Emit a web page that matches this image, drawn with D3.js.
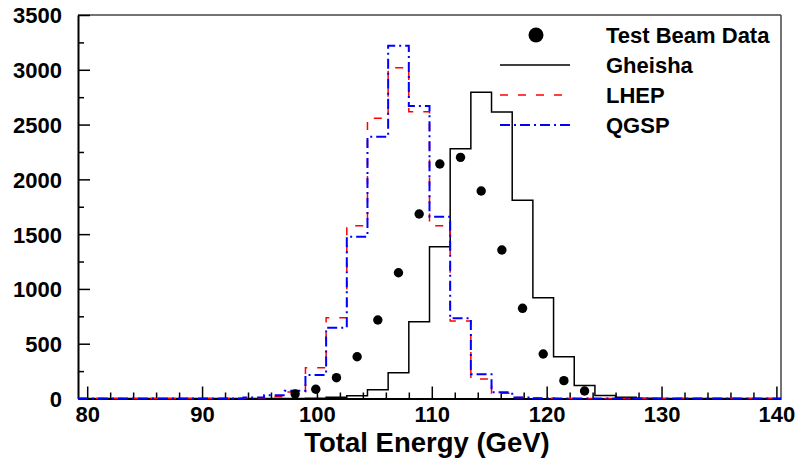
<!DOCTYPE html>
<html><head><meta charset="utf-8">
<script src="https://cdn.jsdelivr.net/npm/d3@7"></script>
<style>
html,body{margin:0;padding:0;background:#fff;}
svg{display:block;font-family:"Liberation Sans",Arial,sans-serif;font-weight:bold;}
</style></head>
<body><svg id="c" width="796" height="459"></svg>
<script>
// ---- data ----
const binLow = [79.2, 81.0, 82.8, 84.6, 86.4, 88.2, 90.0, 91.8, 93.6, 95.4,
  97.2, 99.0, 100.8, 102.6, 104.4, 106.2, 108.0, 109.8, 111.6, 113.4,
  115.2, 117.0, 118.8, 120.6, 122.4, 124.2, 126.0, 127.8, 129.6, 131.4,
  133.2, 135.0, 136.8, 138.6];
const binWidth = 1.8;
const gheisha = [0,0,0,0,0,0,0,0,0,0, 0,3,12,25,80,235,700,1385,2280,2795,
  2615,1810,920,380,118,28,12,2,0,0, 0,0,0,0];
const lhep = [0,0,0,0,0,0,0,0,5,15, 60,281,737,1577,2557,3019,2618,1577,707,178,
  47,8,2,0,0,0,0,0,0,0, 0,0,0,0];
const qgsp = [0,0,0,0,0,0,0,0,8,30, 71,214,646,1477,2389,3220,2670,1659,732,221,
  57,10,3,0,0,0,0,0,0,0, 0,0,0,0];
const testBeam = [null,null,null,null,null,null,null,null,null,null,
  42,84,190,381,716,1148,1684,2140,2201,1894,
  1355,823,406,163,68,null,null,null,null,null, null,null,null,null];
const xTicks = [80, 90, 100, 110, 120, 130, 140];
const yTicks = [0, 500, 1000, 1500, 2000, 2500, 3000, 3500];
const legendLabels = ["Test Beam Data", "Gheisha", "LHEP", "QGSP"];
const xTitle = "Total Energy (GeV)";

// ---- layout ----
const L = 78, R = 781, T = 15, B = 398.5;
const svg = d3.select("#c");
const x = d3.scaleLinear().domain([binLow[0], binLow[binLow.length-1] + binWidth]).range([L, R]);
const y = d3.scaleLinear().domain([0, 3500]).range([B, T]);

// frame top/right
svg.append("line").attr("x1", L).attr("x2", R).attr("y1", T).attr("y2", T).attr("stroke", "#444").attr("stroke-width", 1.5);
svg.append("line").attr("x1", R).attr("x2", R).attr("y1", T).attr("y2", B).attr("stroke", "#444").attr("stroke-width", 1.5);

// y axis
const yMinor = d3.range(0, 3501, 250);
const yAx = d3.axisLeft(y).tickValues(yMinor).tickSize(0).tickFormat(d => yTicks.includes(d) ? d : "");
const gy = svg.append("g").attr("transform", `translate(${L},0)`).call(yAx);
gy.select(".domain").attr("stroke", "#000").attr("stroke-width", 2);
gy.selectAll(".tick line").remove();
gy.selectAll(".tick").append("line").attr("x1", 0).attr("x2", d => yTicks.includes(d) ? 12 : 6)
  .attr("stroke", "#000").attr("stroke-width", 1.5);
gy.selectAll(".tick text").attr("x", -16).attr("dy", "0.36em").attr("fill", "#000")
  .style("font-size", "22px").style("font-family", "'Liberation Sans',Arial,sans-serif").style("font-weight", "bold");

// x axis
const xMinor = d3.range(80, 140.01, 2);
const xAx = d3.axisBottom(x).tickValues(xMinor).tickSize(0).tickFormat(d => xTicks.includes(d) ? d : "");
const gx = svg.append("g").attr("transform", `translate(0,${B})`).call(xAx);
gx.select(".domain").attr("stroke", "#000").attr("stroke-width", 2);
gx.selectAll(".tick line").remove();
gx.selectAll(".tick").append("line").attr("y1", 0).attr("y2", d => xTicks.includes(d) ? -12 : -6)
  .attr("stroke", "#000").attr("stroke-width", 1.5);
gx.selectAll(".tick text").attr("y", 8).attr("dy", "0.71em").attr("fill", "#000")
  .style("font-size", "22px").style("font-family", "'Liberation Sans',Arial,sans-serif").style("font-weight", "bold");

svg.append("text").attr("x", 427).attr("y", 452).attr("text-anchor", "middle")
  .style("font-size", "27.5px").attr("fill", "#000").text(xTitle);

// histograms
function stepPts(vals) {
  const pts = vals.map((v, i) => [binLow[i], v]);
  pts.push([binLow[binLow.length-1] + binWidth, vals[vals.length-1]]);
  return pts;
}
const line = d3.line().x(d => x(d[0])).y(d => y(d[1])).curve(d3.curveStepAfter);
const series = [
  {vals: gheisha, color: "#000", w: 1.5, dash: null},
  {vals: lhep, color: "#ff0000", w: 1.5, dash: "8,10"},
  {vals: qgsp, color: "#0000ff", w: 2, dash: "10,4,2,4"}
];
series.forEach(s => {
  svg.append("path").attr("d", line(stepPts(s.vals))).attr("fill", "none")
    .attr("stroke", s.color).attr("stroke-width", s.w).attr("stroke-dasharray", s.dash);
});

// data points
svg.append("g").selectAll("circle").data(testBeam.map((v, i) => ({v, i})).filter(d => d.v !== null))
  .join("circle").attr("cx", d => x(binLow[d.i] + binWidth / 2)).attr("cy", d => y(d.v)).attr("r", 4.7).attr("fill", "#000");

// legend
const ly = [35, 65, 95, 125];
const lg = svg.append("g");
lg.append("circle").attr("cx", 536).attr("cy", ly[0]).attr("r", 7.5).attr("fill", "#000");
series.forEach((s, i) => {
  lg.append("line").attr("x1", 500).attr("x2", 570).attr("y1", ly[i+1]).attr("y2", ly[i+1])
    .attr("stroke", s.color).attr("stroke-width", s.w).attr("stroke-dasharray", s.dash);
});
legendLabels.forEach((t, i) => {
  lg.append("text").attr("x", 606).attr("y", ly[i]).attr("dy", "0.36em").style("font-size", "22px").attr("fill", "#000").text(t);
});
</script></body></html>
